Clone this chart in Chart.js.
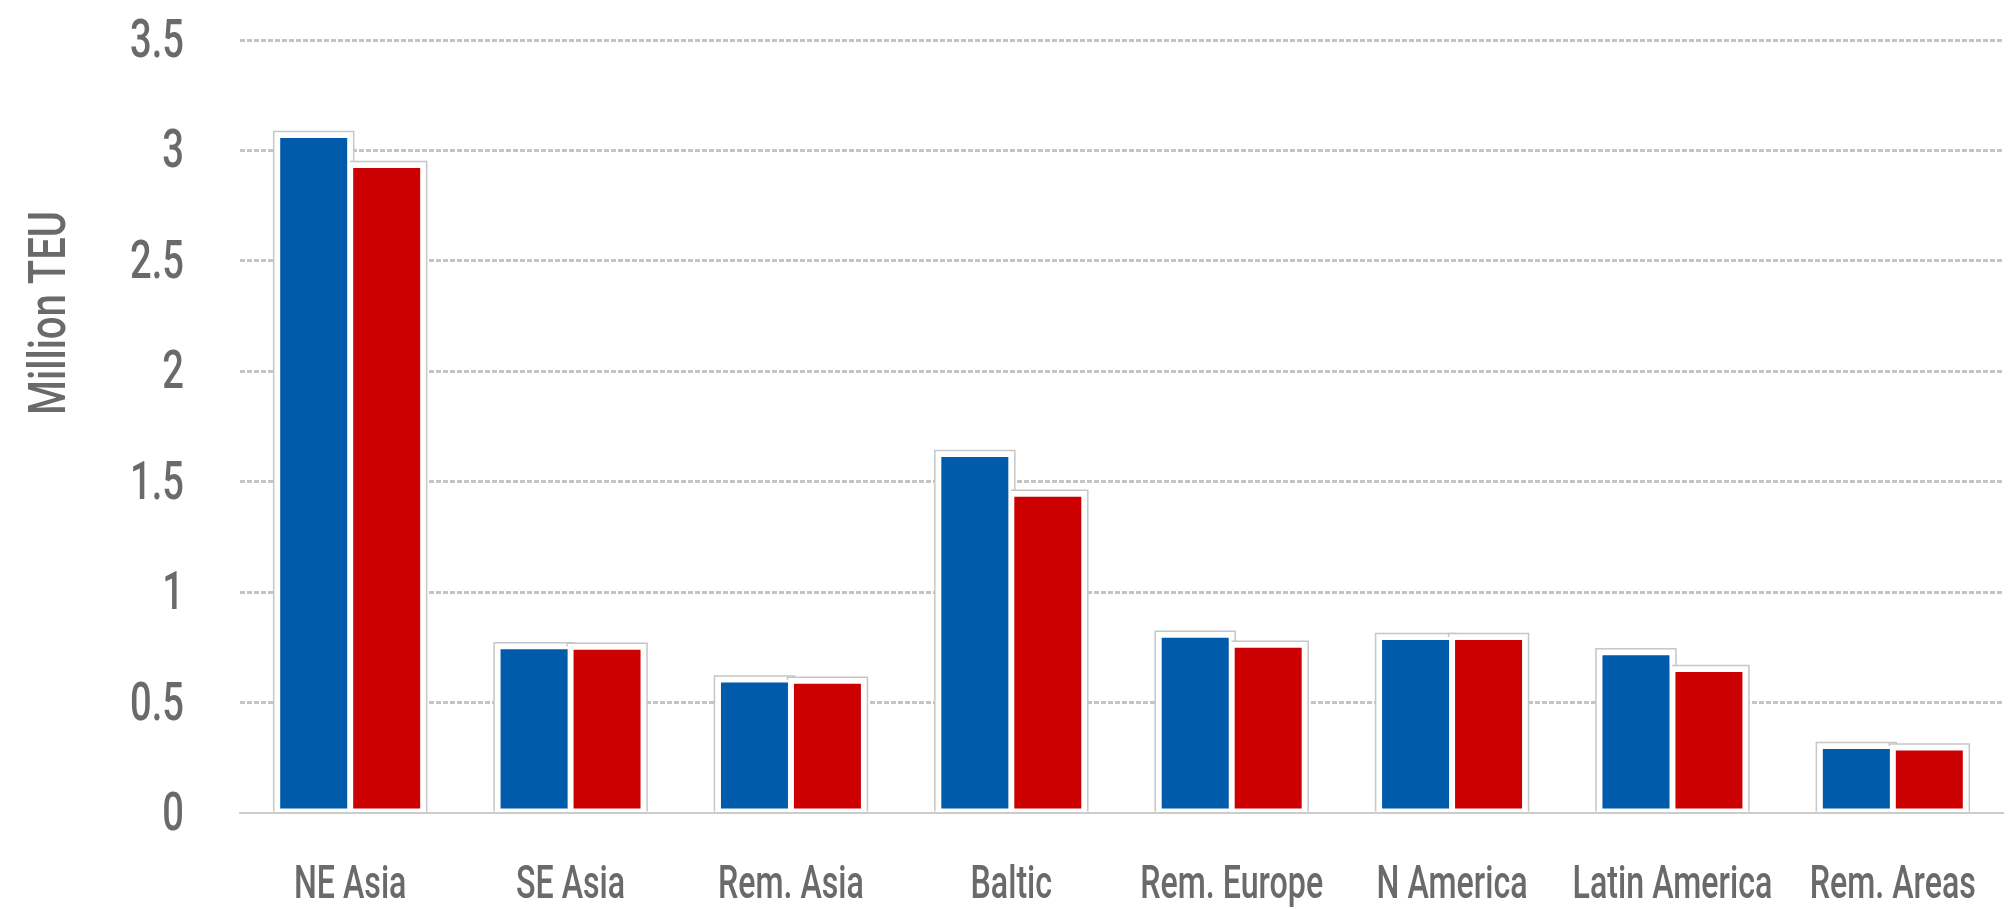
<!DOCTYPE html>
<html>
<head>
<meta charset="utf-8">
<script src="https://cdn.jsdelivr.net/npm/chart.js@4/dist/chart.umd.min.js"></script>
<style>
  html, body { margin: 0; padding: 0; background: #ffffff; }
  #wrap { width: 2010px; height: 909px; position: relative; }
</style>
</head>
<body>
<div id="wrap"><canvas id="c"></canvas></div>
<script>
const categories = ['NE Asia', 'SE Asia', 'Rem. Asia', 'Baltic', 'Rem. Europe', 'N America', 'Latin America', 'Rem. Areas'];
const seriesBlue = [3.07, 0.755, 0.605, 1.625, 0.807, 0.797, 0.728, 0.303];
const seriesRed  = [2.934, 0.753, 0.599, 1.446, 0.762, 0.797, 0.652, 0.297];
const yTicks = [0, 0.5, 1, 1.5, 2, 2.5, 3, 3.5];
const yTitle = 'Million TEU';

const FONT = 'Roboto, "DejaVu Sans", sans-serif';
const TEXT = '#6a6a6a';

// draw condensed text (Oswald-like look) as real canvas text
function condensedText(ctx, str, x, y, size, squeeze, align) {
  ctx.save();
  ctx.font = '500 ' + size + 'px ' + FONT;
  ctx.fillStyle = TEXT;
  ctx.textBaseline = 'alphabetic';
  ctx.textAlign = align;
  ctx.translate(x, y);
  ctx.scale(squeeze, 1);
  ctx.fillText(str, 0, 0);
  ctx.restore();
}

const barFrame = {
  id: 'barFrame',
  beforeDatasetsDraw(chart) {
    const ctx = chart.ctx;
    ctx.save();
    for (let d = 0; d < chart.data.datasets.length; d++) {
      const meta = chart.getDatasetMeta(d);
      meta.data.forEach(el => {
        const p = el.getProps(['x', 'y', 'base', 'width'], true);
        const l = p.x - p.width / 2 - 3.5;
        const r = p.x + p.width / 2 + 3.5;
        const t = p.y - 3.5;
        const b = p.base;
        ctx.fillStyle = '#ffffff';
        ctx.fillRect(l, t, r - l, b - t);
        ctx.strokeStyle = '#c6c6c6';
        ctx.lineWidth = 1.5;
        ctx.beginPath();
        ctx.moveTo(l, b);
        ctx.lineTo(l, t);
        ctx.lineTo(r, t);
        ctx.lineTo(r, b);
        ctx.stroke();
      });
    }
    ctx.restore();
  }
};

const labelsPlugin = {
  id: 'labelsPlugin',
  afterDraw(chart) {
    const ctx = chart.ctx;
    const xs = chart.scales.x, ys = chart.scales.y;
    categories.forEach((c, i) => {
      condensedText(ctx, c, xs.getPixelForTick(i), xs.top + 85, 46, 0.7, 'center');
    });
    yTicks.forEach(v => {
      condensedText(ctx, String(v), ys.right - 56, ys.getPixelForValue(v) + 17, 53, 0.72, 'right');
    });
    ctx.save();
    ctx.translate(65, 313);
    ctx.rotate(-Math.PI / 2);
    condensedText(ctx, yTitle, 0, 0, 52, 0.77, 'center');
    ctx.restore();
  }
};

new Chart(document.getElementById('c'), {
  type: 'bar',
  data: {
    labels: categories,
    datasets: [
      { label: 'Series 1', data: seriesBlue, backgroundColor: '#005baa', borderColor: '#ffffff', borderWidth: 3, borderSkipped: false },
      { label: 'Series 2', data: seriesRed, backgroundColor: '#cc0000', borderColor: '#ffffff', borderWidth: 3, borderSkipped: false }
    ]
  },
  options: {
    responsive: true,
    maintainAspectRatio: false,
    devicePixelRatio: 1,
    animation: false,
    layout: { padding: { top: 40, right: 7, bottom: 0, left: 0 } },
    plugins: { legend: { display: false }, tooltip: { enabled: false } },
    datasets: { bar: { barPercentage: 1.0, categoryPercentage: 0.6624 } },
    scales: {
      x: {
        grid: { display: false, drawTicks: false },
        border: { display: true, color: '#cccccc', width: 2 },
        ticks: { display: false, autoSkip: false },
        afterFit(s) { s.height = 96; s.paddingLeft = 0; s.paddingRight = 0; }
      },
      y: {
        min: 0, max: 3.5,
        afterBuildTicks(s) { s.ticks = yTicks.map(v => ({ value: v })); },
        grid: {
          drawTicks: false,
          color: ctx => (ctx.tick && ctx.tick.value === 0) ? 'rgba(0,0,0,0)' : '#c4c4c4',
          lineWidth: 3
        },
        border: { display: false, dash: [5, 2] },
        ticks: { display: false },
        title: { display: false, text: yTitle },
        afterFit(s) { s.width = 240; s.paddingTop = 0; s.paddingBottom = 0; }
      }
    }
  },
  plugins: [barFrame, labelsPlugin]
});
</script>
</body>
</html>
